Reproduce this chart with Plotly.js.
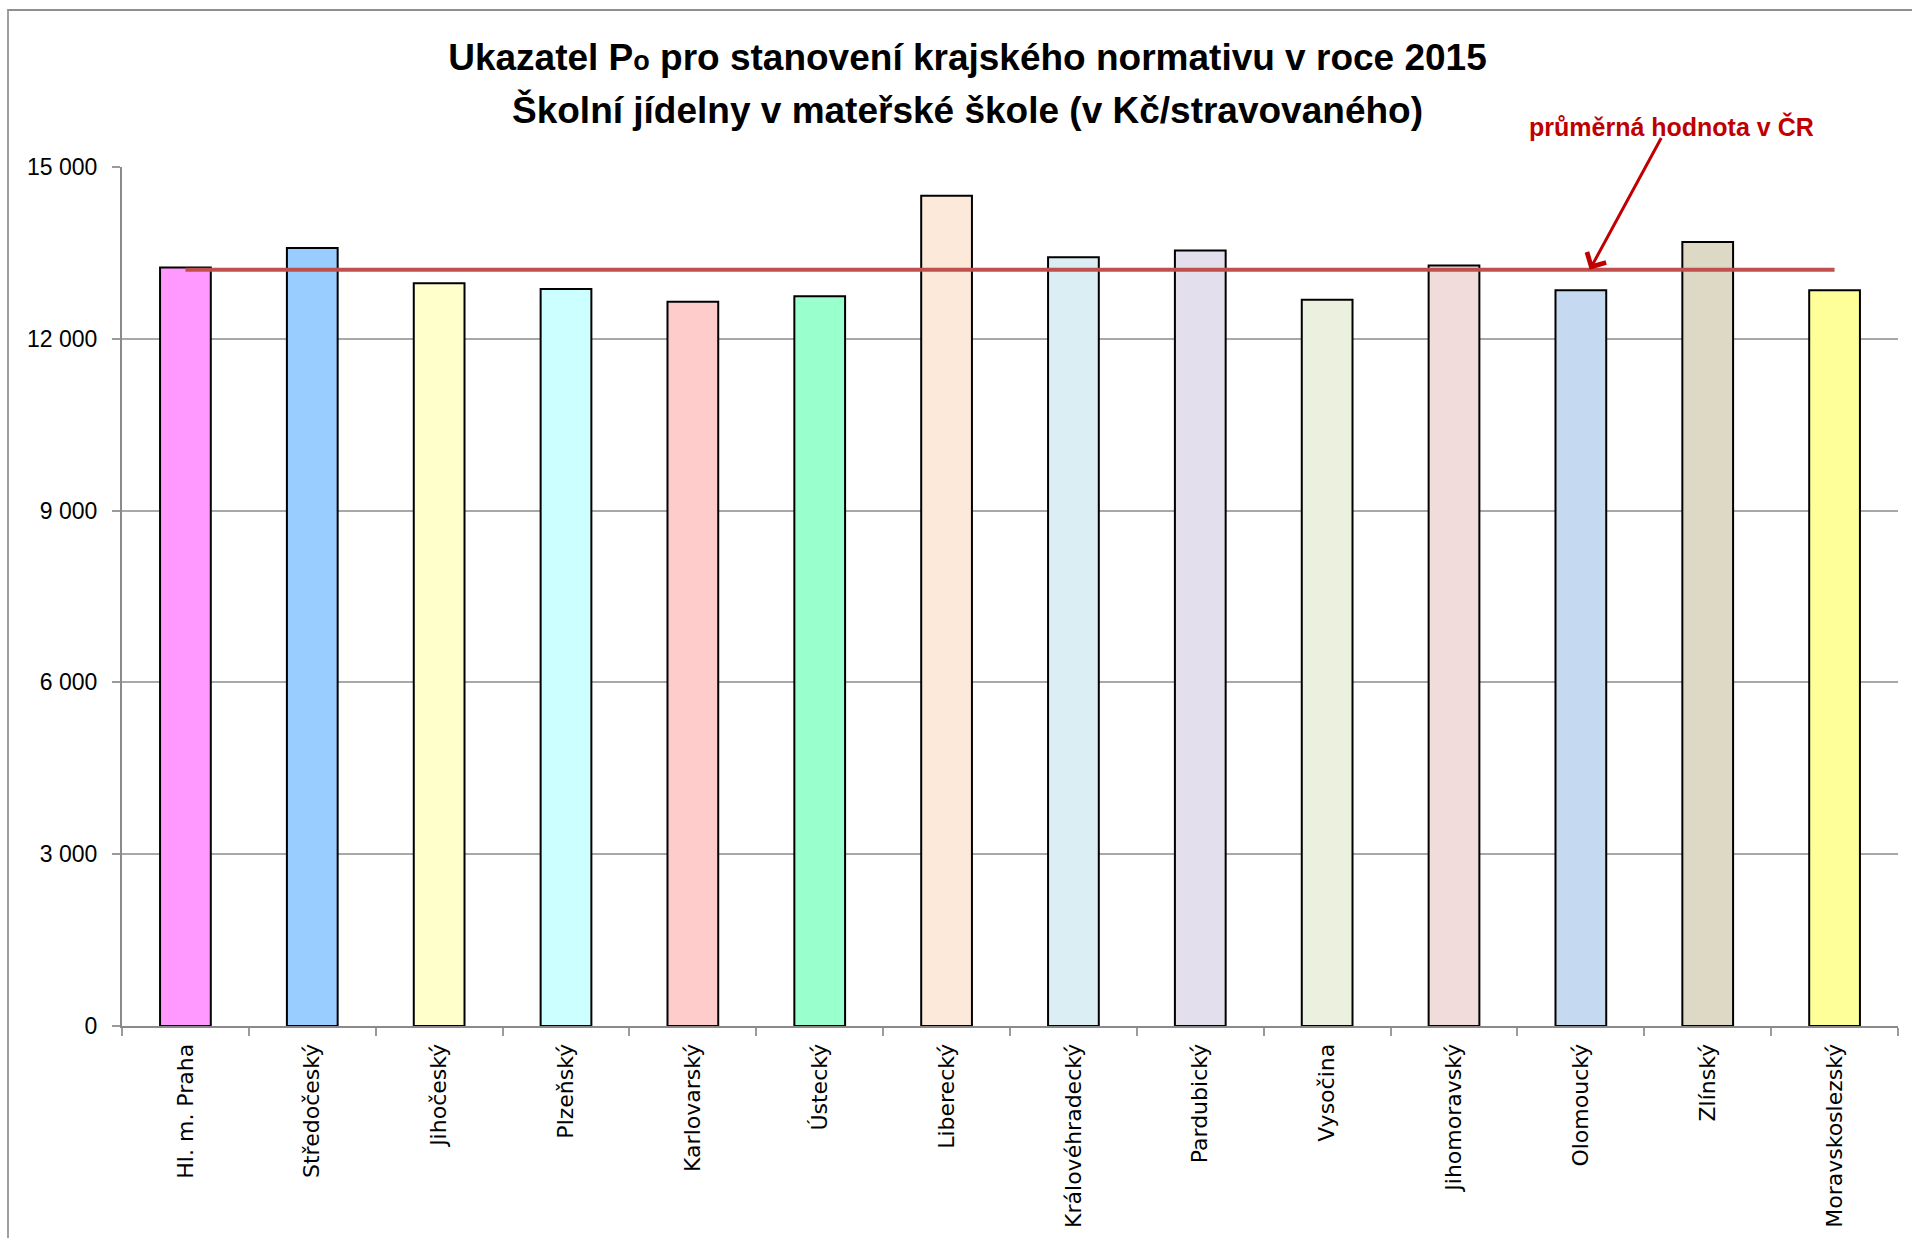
<!DOCTYPE html>
<html>
<head>
<meta charset="utf-8">
<script src="https://cdn.plot.ly/plotly-3.0.1.min.js"></script>
<style>
  html, body { margin: 0; padding: 0; background: #fff; }
  #chart { position: absolute; left: 0; top: 0; width: 1912px; height: 1238px; }
  #frame { position: absolute; left: 7px; top: 9px; right: -10px; bottom: -10px;
           border-top: 2px solid #8f8f8f; border-left: 2px solid #a0a0a0; pointer-events: none; }
</style>
</head>
<body>
<div id="chart"></div>
<div id="frame"></div>
<script>
// Data
const regions = ["Hl. m. Praha", "Středočeský", "Jihočeský", "Plzeňský", "Karlovarský", "Ústecký",
  "Liberecký", "Královéhradecký", "Pardubický", "Vysočina", "Jihomoravský", "Olomoucký",
  "Zlínský", "Moravskoslezský"];
const values = [13247, 13586, 12968, 12870, 12648, 12741, 14499, 13422, 13544, 12683, 13282, 12846, 13691, 12846];
const averageCR = 13205;
const barColors = ["#FF99FF", "#99CCFF", "#FFFFCC", "#CCFFFF", "#FFCCCC", "#99FFCC", "#FDE9D9",
  "#DAEEF3", "#E4DFEC", "#EBF1DE", "#F2DCDB", "#C5D9F1", "#DDD9C4", "#FFFF99"];
const yTicks = [0, 3000, 6000, 9000, 12000, 15000];
const titleLine1 = "Ukazatel P<span style=\"font-size:27px\">o</span> pro stanovení krajského normativu v roce 2015";
const titleLine2 = "Školní jídelny v mateřské škole (v Kč/stravovaného)";
const avgLabel = "průměrná hodnota v ČR";

const avgSeries = regions.map(() => averageCR);

const traces = [
  {
    type: "bar",
    x: regions,
    y: values,
    marker: { color: barColors, line: { color: "#000000", width: 2 } },
    hoverinfo: "x+y",
    showlegend: false
  },
  {
    type: "scatter",
    mode: "lines",
    x: regions,
    y: avgSeries,
    line: { color: "#C0504D", width: 4 },
    hoverinfo: "y",
    showlegend: false
  }
];

const titleFont = { family: "Liberation Sans, Arial, sans-serif", size: 37, color: "#000000", weight: "bold" };

const layout = {
  width: 1912,
  height: 1238,
  margin: { l: 122, r: 14, t: 167, b: 212, pad: 0 },
  paper_bgcolor: "#ffffff",
  plot_bgcolor: "#ffffff",
  separators: ", ",
  bargap: 0.6,
  title: {
    text: titleLine1,
    font: titleFont,
    x: 0.506, xref: "container", xanchor: "center",
    y: 1 - 57 / 1238, yref: "container", yanchor: "middle"
  },
  xaxis: {
    type: "category",
    tickangle: -90,
    tickson: "boundaries",
    ticks: "outside",
    ticklen: 8,
    tickwidth: 2,
    tickcolor: "#9a9a9a",
    ticklabelstandoff: 7,
    showline: true,
    linecolor: "#8a8a8a",
    linewidth: 2,
    showgrid: false,
    tickfont: { family: "DejaVu Sans, sans-serif", size: 22, color: "#000000" },
    range: [-0.5, 13.5],
    fixedrange: true
  },
  yaxis: {
    range: [0, 15000],
    tickvals: yTicks,
    tickformat: ",d",
    ticks: "outside",
    ticklen: 8,
    tickwidth: 2,
    tickcolor: "#9a9a9a",
    ticklabelstandoff: 10,
    showline: true,
    linecolor: "#8a8a8a",
    linewidth: 2,
    showgrid: true,
    gridcolor: "#a8a8a8",
    gridwidth: 2,
    zeroline: false,
    tickfont: { family: "Liberation Sans, Arial, sans-serif", size: 23, color: "#000000" },
    fixedrange: true
  },
  annotations: [
    {
      text: titleLine2,
      xref: "paper", yref: "paper",
      x: 0.4762, y: 1.0667,
      showarrow: false,
      font: titleFont,
      xanchor: "center", yanchor: "middle"
    },
    {
      text: avgLabel,
      xref: "paper", yref: "paper",
      x: 0.8722, y: 1.047,
      showarrow: false,
      font: { family: "Liberation Sans, Arial, sans-serif", size: 25, color: "#C00000", weight: "bold" },
      xanchor: "center", yanchor: "middle"
    },
    {
      text: "",
      xref: "x", yref: "y",
      x: 11.07, y: averageCR,
      axref: "x", ayref: "y",
      ax: 11.64, ay: 15534,
      showarrow: true,
      arrowhead: 4,
      arrowsize: 1.4,
      arrowwidth: 3,
      arrowcolor: "#C00000",
      standoff: 0
    }
  ]
};

Plotly.newPlot("chart", traces, layout, { displayModeBar: false, staticPlot: true });
</script>
</body>
</html>
